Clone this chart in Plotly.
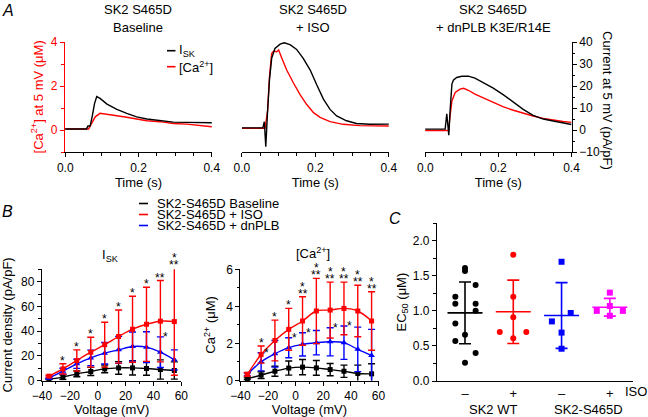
import numpy as np
import plotly.graph_objects as go

W, H = 648, 417
FONT = "Liberation Sans, Arial, Helvetica, sans-serif"
BLK, RED, BLUE, MAG = "#000000", "#ff0000", "#0000ff", "#ff00ff"

# ---------------- Panel A : traces at 5 mV ----------------
t_base_isk = [0, 0.058, 0.062, 0.068, 0.074, 0.08, 0.086, 0.095, 0.114, 0.141, 0.168, 0.195,
              0.223, 0.259, 0.295, 0.332, 0.368, 0.4]
base_isk = [0.5, 0.5, 1.8, 1.8, 6.5, 12, 15.2, 14.4, 11.8, 9.4, 7.6, 6.0, 5.0, 4.2, 3.6, 3.5, 3.3, 3.3]
t_base_ca = [0, 0.064, 0.072, 0.082, 0.095, 0.114, 0.141, 0.168, 0.195, 0.223, 0.259, 0.295,
             0.332, 0.368, 0.4]
base_ca = [0.05, 0.05, 0.3, 0.6, 0.76, 0.72, 0.65, 0.58, 0.5, 0.42, 0.38, 0.3, 0.27, 0.22, 0.15]

t_iso_isk = [0, 0.057, 0.061, 0.065, 0.07, 0.075, 0.081, 0.09, 0.104, 0.115, 0.131, 0.149, 0.167,
             0.186, 0.204, 0.222, 0.24, 0.258, 0.285, 0.312, 0.348, 0.4]
iso_isk = [1, 1, 3.8, -7.6, 9, 22.7, 32.6, 37.1, 39.1, 39.7, 38.9, 36.7, 32.6, 27.3, 20.5, 14.1,
           9.4, 6.4, 4.2, 3.0, 2.6, 2.7]
t_iso_ca = [0, 0.063, 0.07, 0.075, 0.081, 0.086, 0.095, 0.1, 0.109, 0.122, 0.14, 0.158, 0.176,
            0.195, 0.213, 0.24, 0.276, 0.321, 0.4]
iso_ca = [0.08, 0.08, 0.9, 2.42, 3.48, 3.59, 3.56, 3.64, 3.26, 2.73, 2.15, 1.62, 1.17, 0.79,
          0.58, 0.38, 0.26, 0.2, 0.18]

t_pl_isk = [0, 0.0545, 0.059, 0.062, 0.0645, 0.068, 0.073, 0.077, 0.086, 0.1, 0.118, 0.136,
            0.159, 0.186, 0.214, 0.241, 0.268, 0.295, 0.323, 0.35, 0.377, 0.4]
pl_isk = [0.4, 0.4, 7.4, 1, -2.4, 8.7, 20.9, 22.7, 23.9, 24.5, 24.5, 23.6, 21.6, 19.1, 16, 12.8,
          9.4, 6.7, 5, 4.1, 3.3, 2.5]
t_pl_ca = [0, 0.064, 0.068, 0.073, 0.082, 0.095, 0.105, 0.118, 0.136, 0.159, 0.186, 0.214,
           0.241, 0.268, 0.295, 0.323, 0.35, 0.377, 0.4]
pl_ca = [-0.02, -0.02, 0.64, 1.32, 1.71, 1.86, 1.9, 1.81, 1.63, 1.45, 1.25, 1.05, 0.9, 0.76,
         0.64, 0.53, 0.45, 0.39, 0.35]

a_titles = ["Baseline", "+ ISO", "+ dnPLB K3E/R14E"]

# ---------------- Panel B : I-V and Ca-V ----------------
voltage = [-35, -25, -15, -5, 5, 15, 25, 35, 45, 55]
isk_base = [1.0, 2.7, 5.4, 7.3, 9.4, 10.2, 10.2, 9.7, 8.9, 8.1]
isk_base_sd = [0.5, 1.9, 2.4, 3.3, 3.1, 5.1, 5.8, 5.5, 7.8, 7.0]
isk_iso = [3.5, 9.4, 16.2, 22.9, 29.0, 35.6, 41.5, 45.5, 48.0, 47.7]
isk_iso_sd = [0.8, 4.1, 8.6, 12.1, 18.2, 21.5, 26.7, 30.0, 32.9, 43.4]
isk_pl = [1.9, 7.5, 13.5, 18.3, 22.1, 24.8, 27.5, 27.0, 22.9, 16.7]
isk_pl_sd = [0.5, 2.4, 3.7, 6.3, 8.7, 10.9, 11.8, 12.5, 12.4, 8.1]

ca_base = [0.09, 0.29, 0.5, 0.67, 0.72, 0.68, 0.59, 0.5, 0.38, 0.36]
ca_base_sd = [0.05, 0.18, 0.27, 0.38, 0.41, 0.40, 0.33, 0.33, 0.45, 0.54]
ca_iso = [0.33, 1.4, 2.16, 2.76, 3.21, 3.75, 3.8, 3.89, 3.75, 3.21]
ca_iso_sd = [0.1, 0.46, 1.1, 1.13, 1.31, 1.76, 1.51, 1.42, 1.39, 1.58]
ca_pl = [0.32, 1.01, 1.44, 1.77, 1.95, 2.04, 2.09, 2.04, 1.68, 1.35]
ca_pl_sd = [0.08, 0.49, 0.72, 0.54, 0.63, 0.66, 0.76, 0.9, 1.2, 1.41]

# significance marks (ISO vs baseline above red bars; dnPLB vs baseline beside blue bars)
isk_iso_star_lo = ["", "*", "*", "*", "*", "*", "*", "*", "**", "**"]
isk_iso_star_hi = ["", "", "", "", "", "", "", "", "", "*"]
isk_pl_star = ["", "", "", "", "", "", "", "", "*", ""]
ca_iso_star_lo = ["", "*", "*", "*", "**", "**", "**", "**", "**", "**"]
ca_iso_star_hi = ["", "", "", "", "*", "*", "*", "*", "*", "*"]
ca_pl_star = ["", "*", "", "*", "*", "", "*", "*", "", ""]

legend_b = ["SK2-S465D Baseline", "SK2-S465D + ISO", "SK2-S465D + dnPLB"]

# ---------------- Panel C : EC50 ----------------
ec_groups = ["SK2 WT", "SK2-S465D"]
iso_labels = ["–", "+", "–", "+"]
ec_wt_ctrl = [1.61, 1.57, 1.37, 1.20, 1.10, 1.10, 1.00, 0.82, 0.66, 0.57, 0.40, 0.26]
ec_wt_iso = [1.80, 1.20, 0.91, 0.70, 0.70, 0.61]
ec_sd_ctrl = [1.70, 0.97, 0.85, 0.69, 0.46]
ec_sd_iso = [1.26, 1.07, 1.00, 1.00, 0.93]
jit_wt_ctrl = [0, 0, 0.22, -0.2, -0.2, 0.22, 0.22, -0.2, 0, -0.2, 0.22, 0]
jit_wt_iso = [0, 0, 0, -0.28, 0.27, 0]
jit_sd_ctrl = [0, 0.19, -0.2, 0, 0]
jit_sd_iso = [0, 0, -0.27, 0.27, 0]


def px(x):
    return x / W


def py(y):
    return 1 - y / H


TICKF = dict(size=12, color=BLK, family=FONT)
TITLEF = dict(size=13, color=BLK, family=FONT)


def axis(**kw):
    d = dict(showline=True, linecolor=BLK, linewidth=1.3, ticks="outside", ticklen=4,
             tickwidth=1.3, tickcolor=BLK, showgrid=False, zeroline=False,
             tickfont=TICKF, fixedrange=True, automargin=False)
    d.update(kw)
    return d


def minor(dt, col=BLK):
    return dict(dtick=dt, ticks="outside", ticklen=2.5, tickwidth=1, tickcolor=col, showgrid=False)


fig = go.Figure()

# ---- Panel A traces
a_sets = [
    (t_base_isk, base_isk, t_base_ca, base_ca, "x", "y", "y2"),
    (t_iso_isk, iso_isk, t_iso_ca, iso_ca, "x2", "y3", "y4"),
    (t_pl_isk, pl_isk, t_pl_ca, pl_ca, "x3", "y5", "y6"),
]
for ti, vi, tc, vc, xa, ya_ca, ya_i in a_sets:
    fig.add_trace(go.Scatter(x=tc, y=vc, mode="lines", line=dict(color=RED, width=1.4),
                             xaxis=xa, yaxis=ya_ca, showlegend=False, name="[Ca2+]"))
    fig.add_trace(go.Scatter(x=ti, y=vi, mode="lines", line=dict(color=BLK, width=1.4),
                             xaxis=xa, yaxis=ya_i, showlegend=False, name="ISK"))

# ---- Panel B traces
b_sets = [
    (legend_b[0], isk_base, isk_base_sd, ca_base, ca_base_sd, BLK, "square", 5),
    (legend_b[2], isk_pl, isk_pl_sd, ca_pl, ca_pl_sd, BLUE, "triangle-up", 6),
    (legend_b[1], isk_iso, isk_iso_sd, ca_iso, ca_iso_sd, RED, "square", 5),
]
for name, mi, si, mc, sc, col, sym, ms in b_sets:
    for m, s, xa, ya in [(mi, si, "x4", "y7"), (mc, sc, "x5", "y8")]:
        fig.add_trace(go.Scatter(
            x=voltage, y=m, mode="lines+markers", name=name, showlegend=False,
            line=dict(color=col, width=1.4, shape="spline", smoothing=1.0),
            marker=dict(color=col, symbol=sym, size=ms),
            error_y=dict(type="data", array=s, visible=True, color=col, thickness=1.4, width=3.5),
            xaxis=xa, yaxis=ya, cliponaxis=False))

# ---- Panel C traces
c_sets = [
    (ec_wt_ctrl, jit_wt_ctrl, 1, BLK, "circle"),
    (ec_wt_iso, jit_wt_iso, 2, RED, "circle"),
    (ec_sd_ctrl, jit_sd_ctrl, 3, BLUE, "square"),
    (ec_sd_iso, jit_sd_iso, 4, MAG, "square"),
]
for vals, jit, pos, col, sym in c_sets:
    fig.add_trace(go.Scatter(x=[pos + j for j in jit], y=vals, mode="markers",
                             marker=dict(color=col, symbol=sym, size=6),
                             xaxis="x6", yaxis="y9", showlegend=False, cliponaxis=False))
    arr = np.array(vals)
    fig.add_trace(go.Scatter(
        x=[pos], y=[arr.mean()], mode="markers",
        marker=dict(symbol="line-ew", size=25, color=col, line=dict(color=col, width=1.6)),
        error_y=dict(type="data", array=[arr.std(ddof=1)], visible=True, color=col,
                     thickness=1.6, width=6),
        xaxis="x6", yaxis="y9", showlegend=False, cliponaxis=False))

# ---------------- Layout ----------------
B_BOTTOM, B_TOP = 380.5, 269.3
A_DOM_Y = [py(152), py(41.7)]
B_DOM_Y = [py(B_BOTTOM), py(B_TOP)]
C_DOM_Y = [py(381), py(223.2)]
ISK_MAX, CA_MAX = 90, 6

xa_common = dict(range=[-0.0006, 0.4006], tickmode="linear", tick0=0, dtick=0.2, tickformat=".1f",
                 minor=minor(0.05))
layout = dict(
    width=W, height=H, margin=dict(l=0, r=0, t=0, b=0), autosize=False,
    paper_bgcolor="white", plot_bgcolor="white",
    font=dict(family=FONT, size=12, color=BLK),
    xaxis=axis(domain=[px(65), px(212)], anchor="y", **xa_common,
               title=dict(text="Time (s)", standoff=1, font=TITLEF)),
    xaxis2=axis(domain=[px(241.7), px(389)], anchor="y3", **xa_common,
                title=dict(text="Time (s)", standoff=1, font=TITLEF)),
    xaxis3=axis(domain=[px(425), px(571.7)], anchor="y5", **xa_common,
                title=dict(text="Time (s)", standoff=1, font=TITLEF)),
    yaxis=axis(domain=A_DOM_Y, anchor="x", range=[-1, 4.02], tickmode="linear", tick0=0, dtick=2,
               linecolor=RED, tickcolor=RED, tickfont=dict(size=12, color=RED, family=FONT),
               minor=minor(1, RED),
               title=dict(text="[Ca<sup>2+</sup>] at 5 mV (μM)", standoff=4,
                          font=dict(size=13, color=RED, family=FONT))),
    yaxis2=dict(overlaying="y", anchor="x", range=[-10, 40.2], visible=False, fixedrange=True),
    yaxis3=dict(domain=A_DOM_Y, anchor="x2", range=[-1, 4.02], visible=False, fixedrange=True),
    yaxis4=dict(overlaying="y3", anchor="x2", range=[-10, 40.2], visible=False, fixedrange=True),
    yaxis5=dict(domain=A_DOM_Y, anchor="x3", range=[-1, 4.02], visible=False, fixedrange=True),
    yaxis6=axis(overlaying="y5", anchor="x3", side="right", range=[-10, 40.2], tickmode="linear",
                tick0=0, dtick=10, minor=minor(5)),
    xaxis4=axis(domain=[px(42), px(181.3)], anchor="y7", range=[-40, 60], tickmode="linear",
                tick0=-40, dtick=20, minor=minor(10),
                title=dict(text="Voltage (mV)", standoff=1, font=TITLEF)),
    yaxis7=axis(domain=B_DOM_Y, anchor="x4", range=[0, ISK_MAX], tickmode="linear", tick0=0,
                dtick=20, minor=minor(10),
                title=dict(text="Current density (pA/pF)", standoff=5, font=TITLEF)),
    xaxis5=axis(domain=[px(240.4), px(378.5)], anchor="y8", range=[-40, 60], tickmode="linear",
                tick0=-40, dtick=20, minor=minor(10),
                title=dict(text="Voltage (mV)", standoff=1, font=TITLEF)),
    yaxis8=axis(domain=B_DOM_Y, anchor="x5", range=[0, CA_MAX], tickmode="linear", tick0=0,
                dtick=2, minor=minor(1),
                title=dict(text="Ca<sup>2+</sup> (μM)", standoff=7, font=TITLEF)),
    xaxis6=axis(domain=[px(437), px(633)], anchor="y9", range=[0.42, 4.48], tickmode="array",
                tickvals=[1, 2, 3, 4], ticktext=iso_labels, ticks="",
                tickfont=dict(size=13, color=BLK, family=FONT)),
    yaxis9=axis(domain=C_DOM_Y, anchor="x6", range=[0, 2.25], tickmode="linear", tick0=0,
                dtick=0.5, tickformat=".1f", minor=minor(0.25),
                title=dict(text="EC<sub>50</sub> (μM)", standoff=3, font=TITLEF)),
)
fig.update_layout(**layout)

ann = []
shapes = []


def txt(x, y, s, size=13, color=BLK, xanchor="center", yanchor="middle", **kw):
    ann.append(dict(x=px(x), y=py(y), xref="paper", yref="paper", text=s, showarrow=False,
                    xanchor=xanchor, yanchor=yanchor, font=dict(size=size, color=color, family=FONT),
                    **kw))


# panel letters
txt(7.5, 11, "<i>A</i>", size=16)
txt(7.5, 212, "<i>B</i>", size=16)
txt(395, 219, "<i>C</i>", size=16)

# panel A titles
for cx, sub in zip([137.5, 313.3, 493], a_titles):
    txt(cx, 9.5, "SK2 S465D")
    txt(cx, 27.5, sub)

# right axis title of panel A (reads top to bottom)
txt(608, 100, "Current at 5 mV (pA/pF)", textangle=90)

# panel A legend
for yy, col, lab in [(50.7, BLK, "I<sub>SK</sub>"), (66.7, RED, "[Ca<sup>2+</sup>]")]:
    shapes.append(dict(type="line", xref="paper", yref="paper", x0=px(167), x1=px(175.5),
                       y0=py(yy), y1=py(yy), line=dict(color=col, width=1.6)))
    txt(177, yy, lab, xanchor="left")

# panel B legend
for yy, col, lab in [(203.5, BLK, legend_b[0]), (214.5, RED, legend_b[1]), (225.5, BLUE, legend_b[2])]:
    shapes.append(dict(type="line", xref="paper", yref="paper", x0=px(139), x1=px(148),
                       y0=py(yy), y1=py(yy), line=dict(color=col, width=1.6)))
    txt(155, yy, lab, xanchor="left")

# panel B sub-titles
txt(110, 255, "I<sub>SK</sub>")
txt(313, 253, "[Ca<sup>2+</sup>]")

# panel C group labels
txt(493, 409, ec_groups[0])
txt(588, 409, ec_groups[1])
txt(636, 391.5, "ISO", size=13)

STARF = dict(size=12, color=BLK, family=FONT)


def stars(xa, ya, ymax, means, sds, lo, hi):
    ppu = (B_BOTTOM - B_TOP) / ymax  # pixels per data unit
    for v, m, s, a, b in zip(voltage, means, sds, lo, hi):
        top = m + s
        anchor = min(top, ymax)
        extra = (top - anchor) * ppu
        if a:
            ann.append(dict(x=v, y=anchor, xref=xa, yref=ya, text=a, showarrow=False, borderpad=0,
                            xanchor="center", yanchor="bottom", yshift=-5 + extra, font=STARF))
        if b:
            ann.append(dict(x=v, y=anchor, xref=xa, yref=ya, text=b, showarrow=False, borderpad=0,
                            xanchor="center", yanchor="bottom", yshift=2 + extra, font=STARF))


def side_stars(xa, ya, means, sds, marks):
    for v, m, s, c in zip(voltage, means, sds, marks):
        if c:
            ann.append(dict(x=v, y=m + s, xref=xa, yref=ya, text=c, showarrow=False, borderpad=0,
                            xanchor="left", yanchor="middle", xshift=2, yshift=0, font=STARF))


stars("x4", "y7", ISK_MAX, isk_iso, isk_iso_sd, isk_iso_star_lo, isk_iso_star_hi)
side_stars("x4", "y7", isk_pl, isk_pl_sd, isk_pl_star)
stars("x5", "y8", CA_MAX, ca_iso, ca_iso_sd, ca_iso_star_lo, ca_iso_star_hi)
side_stars("x5", "y8", ca_pl, ca_pl_sd, ca_pl_star)

fig.update_layout(annotations=ann, shapes=shapes)
# remove the browser's default 8 px page margin so the figure fills the window exactly
fig.write_html("out.html", config={"displayModeBar": False},
               post_script="document.body.style.margin='0px';")
